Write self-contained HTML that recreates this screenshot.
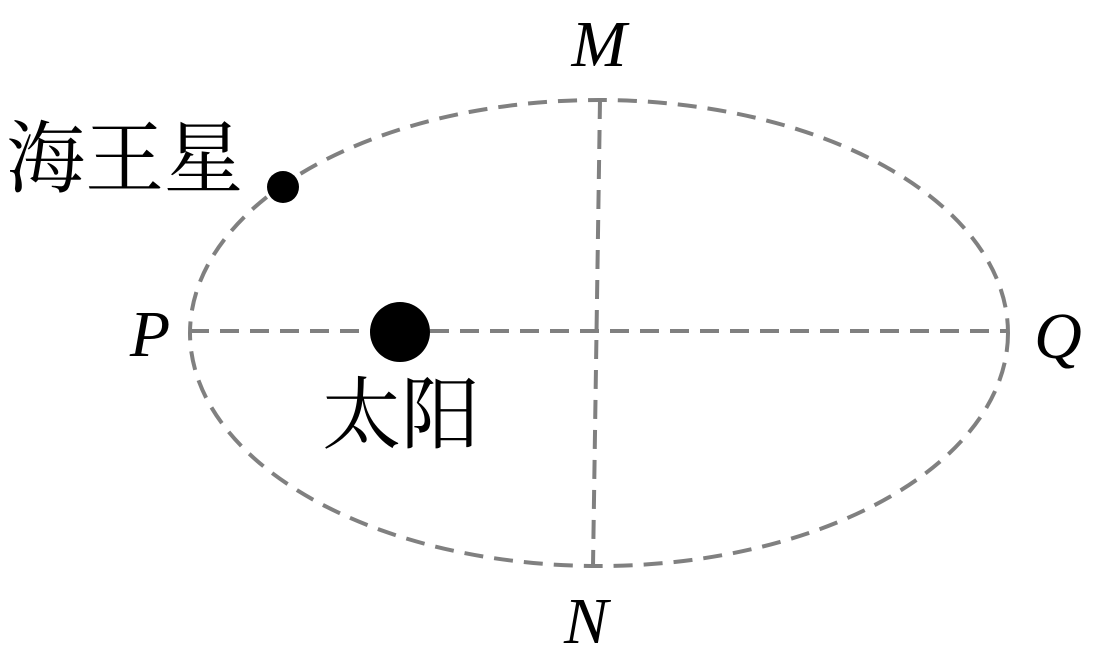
<!DOCTYPE html>
<html><head><meta charset="utf-8"><style>
html,body{margin:0;padding:0;background:#fff;}
</style></head><body>
<svg width="1099" height="659" viewBox="0 0 1099 659" xmlns="http://www.w3.org/2000/svg">
<g fill="none" stroke="#808080" stroke-width="4" stroke-dasharray="19 11">
<ellipse cx="599" cy="333" rx="409" ry="233"/>
<line x1="190" y1="331" x2="1008" y2="331"/>
<line x1="600" y1="100" x2="593" y2="566"/>
</g>
<circle cx="400" cy="332" r="30" fill="#000"/>
<circle cx="283" cy="187" r="16" fill="#000"/>
<g font-family="'Liberation Serif', serif" font-style="italic" font-size="66" fill="#000" text-anchor="middle">
<text x="599" y="66">M</text>
<text x="150" y="356">P</text>
<text x="1058" y="358">Q</text>
<text x="586" y="643">N</text>
</g>
<g font-family="'Liberation Serif','Noto Serif CJK SC',serif" font-size="79" fill="#000">
<text x="6" y="186">海王星</text>
<text x="322" y="442">太阳</text>
</g>
</svg>
</body></html>
